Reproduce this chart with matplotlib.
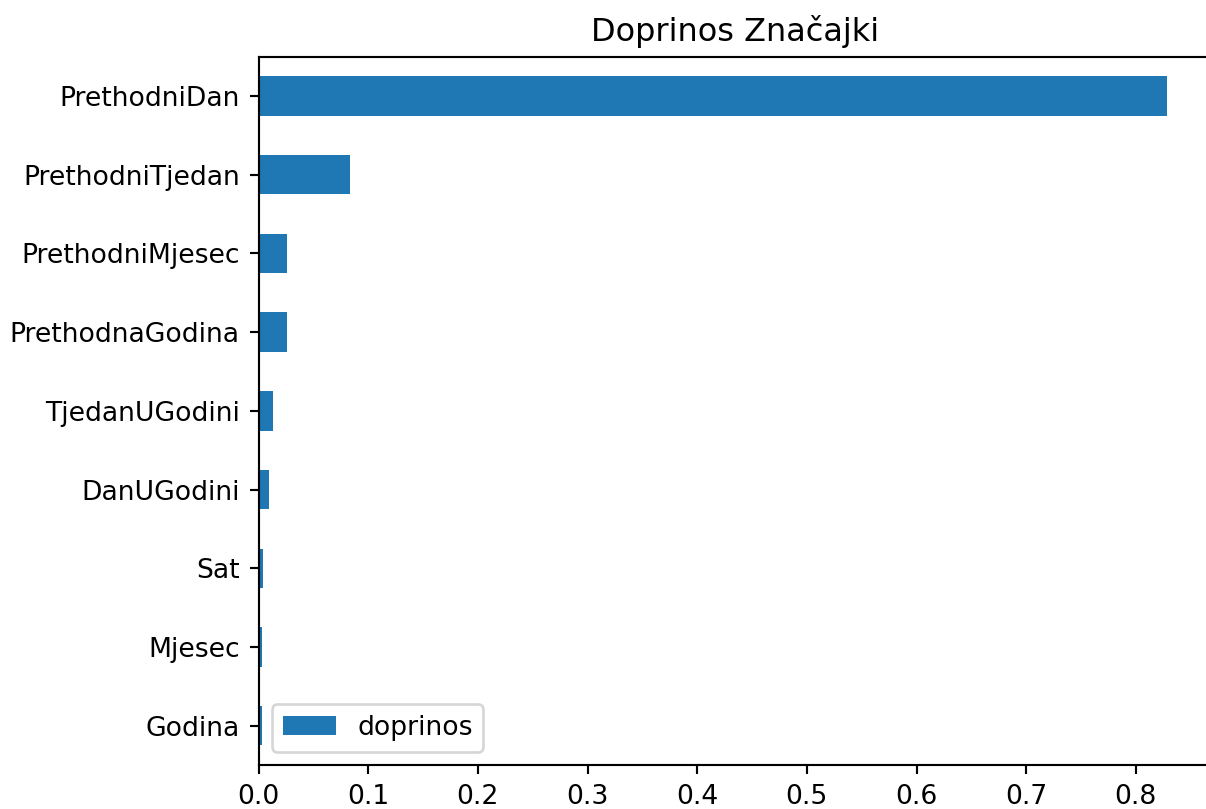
import matplotlib
matplotlib.use("Agg")
import matplotlib.pyplot as plt

znacajke = ["Godina", "Mjesec", "Sat", "DanUGodini", "TjedanUGodini",
            "PrethodnaGodina", "PrethodniMjesec", "PrethodniTjedan", "PrethodniDan"]
doprinos = [0.003, 0.003, 0.0043, 0.0098, 0.013, 0.0257, 0.0257, 0.0834, 0.828]

dpi = 192
fig = plt.figure(figsize=(1206/dpi, 809/dpi), dpi=dpi)
ax = fig.add_axes([258.5/1206, 1 - 765/809, (1212 - 258.5)/1206, (765 - 56.7)/809])

pos = list(range(len(znacajke)))
ax.barh(pos, doprinos, height=0.5, color="#1f77b4", label="doprinos")
ax.set_yticks(pos)
ax.set_yticklabels(znacajke)
ax.set_ylim(-0.5, len(znacajke) - 0.5)
ax.set_title("Doprinos Značajki")
ax.legend(loc="lower left")

fig.savefig("out.png", dpi=dpi)
